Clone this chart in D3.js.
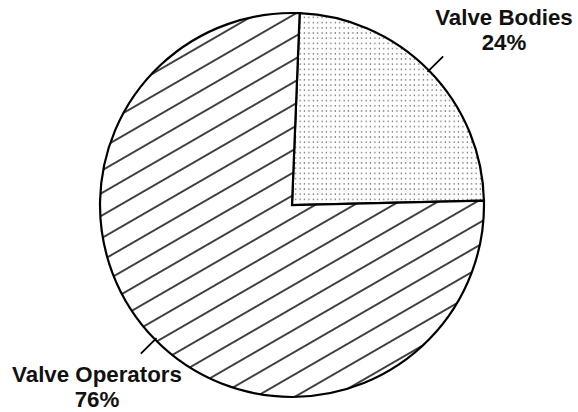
<!DOCTYPE html>
<html>
<head>
<meta charset="utf-8">
<script src="https://cdn.jsdelivr.net/npm/d3@7"></script>
<style>
  html, body { margin: 0; padding: 0; background: #fff; }
  svg { display: block; }
  text { font-family: "Liberation Sans", Arial, Helvetica, sans-serif; font-weight: bold; fill: #111; }
</style>
</head>
<body>
<svg id="chart" width="578" height="412"></svg>
<script>
const categories = ["Valve Bodies", "Valve Operators"];
const values = [24, 76];
const percentLabels = ["24%", "76%"];

const W = 578, H = 412;
const cx = 292, cy = 205, R = 192;
const startOffset = 0.04;

const svg = d3.select("#chart");
const defs = svg.append("defs");

// dotted stipple
const dots = defs.append("pattern")
  .attr("id", "dots").attr("patternUnits", "userSpaceOnUse")
  .attr("width", 4.4).attr("height", 5.2)
  .attr("patternTransform", `translate(${cx},${cy})`);
dots.append("rect").attr("width", 4.4).attr("height", 5.2).attr("fill", "#fff");
dots.append("rect").attr("x", 1.5).attr("y", 2).attr("width", 1.2).attr("height", 1.2).attr("fill", "#444");

// diagonal hatch
const hh = 19.5;
const hatch = defs.append("pattern")
  .attr("id", "hatch").attr("patternUnits", "userSpaceOnUse")
  .attr("width", 40).attr("height", hh)
  .attr("patternTransform", `translate(${cx},${cy}) rotate(-30) translate(0,${-hh/2})`);
hatch.append("rect").attr("width", 40).attr("height", hh).attr("fill", "#fff");
hatch.append("line").attr("x1", 0).attr("x2", 40).attr("y1", hh/2).attr("y2", hh/2)
  .attr("stroke", "#000").attr("stroke-width", 1.6);

const fills = ["url(#dots)", "url(#hatch)"];

const pie = d3.pie().sort(null).value(d => d)
  .startAngle(startOffset).endAngle(startOffset + 2 * Math.PI);
const arcs = pie(values);
const arc = d3.arc().innerRadius(0).outerRadius(R);

const g = svg.append("g").attr("transform", `translate(${cx},${cy})`);
g.selectAll("path.slice").data(arcs).enter().append("path")
  .attr("class", "slice")
  .attr("d", arc)
  .attr("fill", (d, i) => fills[i])
  .attr("stroke", "#000").attr("stroke-width", 2.2).attr("stroke-linejoin", "miter");

// leader lines
const leadIn = d3.arc().innerRadius(190).outerRadius(190);
const leadOut = d3.arc().innerRadius(212).outerRadius(212);
g.selectAll("line.leader").data(arcs).enter().append("line")
  .attr("class", "leader")
  .attr("x1", d => leadIn.centroid(d)[0]).attr("y1", d => leadIn.centroid(d)[1])
  .attr("x2", d => leadOut.centroid(d)[0]).attr("y2", d => leadOut.centroid(d)[1])
  .attr("stroke", "#000").attr("stroke-width", 1.8);

// labels
const labelPos = [[504, 25], [97, 382]];
const lab = svg.selectAll("g.lab").data(arcs).enter().append("g").attr("class", "lab");
lab.append("text")
  .attr("x", (d, i) => labelPos[i][0]).attr("y", (d, i) => labelPos[i][1])
  .attr("text-anchor", "middle").attr("font-size", 22.3)
  .text((d, i) => categories[i]);
lab.append("text")
  .attr("x", (d, i) => labelPos[i][0]).attr("y", (d, i) => labelPos[i][1] + 25)
  .attr("text-anchor", "middle").attr("font-size", 22.3)
  .text((d, i) => percentLabels[i]);
</script>
</body>
</html>
